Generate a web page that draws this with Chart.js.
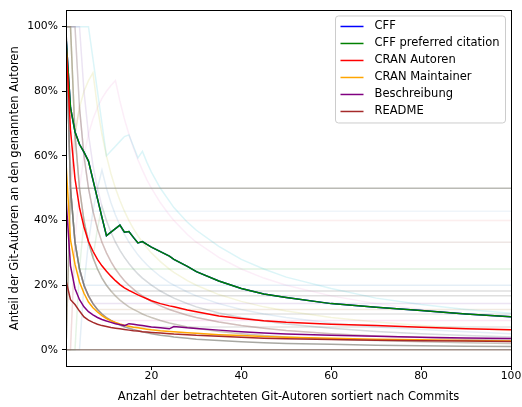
<!DOCTYPE html>
<html><head><meta charset="utf-8">
<script src="https://cdn.jsdelivr.net/npm/chart.js@4/dist/chart.umd.min.js"></script>
<style>html,body{margin:0;padding:0;background:#fff}#wrap{width:522px;height:407px}</style>
</head><body><div id="wrap"><canvas id="c" width="522" height="407"></canvas></div>
<script>
// x positions (number of considered git authors)
const xGrid = [1,2,3,4,5,6,7,8,9,10,11,12,13,14,15,16,17,18,19,20,22,24,25,28,30,35,40,45,50,60,70,80,90,100];
const xTicks = [20,40,60,80,100];
const yTicks = [0,0.2,0.4,0.6,0.8,1.0];

// main series (share of named authors)
const cff        = [0.97,0.75,0.675,0.636,0.612,0.584,0.526,0.468,0.41,0.353,0.364,0.375,0.386,0.364,0.366,0.348,0.331,0.335,0.326,0.318,0.304,0.29,0.28,0.258,0.242,0.213,0.19,0.173,0.162,0.143,0.132,0.122,0.111,0.102];
const cffPref    = [0.97,0.75,0.675,0.636,0.612,0.584,0.526,0.468,0.41,0.353,0.364,0.375,0.386,0.364,0.366,0.348,0.331,0.335,0.326,0.318,0.304,0.29,0.28,0.258,0.242,0.213,0.19,0.173,0.162,0.143,0.132,0.122,0.111,0.102];
const cranAut    = [0.95,0.68,0.53,0.44,0.38,0.335,0.305,0.28,0.26,0.243,0.228,0.214,0.202,0.192,0.184,0.177,0.17,0.164,0.158,0.152,0.143,0.136,0.133,0.123,0.118,0.105,0.097,0.09,0.085,0.079,0.075,0.07,0.065,0.062];
const cranMaint  = [0.58,0.34,0.265,0.21,0.175,0.148,0.13,0.117,0.106,0.097,0.09,0.085,0.08,0.076,0.073,0.07,0.068,0.066,0.064,0.062,0.059,0.057,0.056,0.053,0.051,0.047,0.044,0.041,0.039,0.036,0.033,0.031,0.029,0.027];
const beschr     = [0.47,0.26,0.19,0.155,0.133,0.118,0.108,0.1,0.094,0.089,0.085,0.081,0.078,0.075,0.081,0.079,0.077,0.075,0.073,0.071,0.068,0.065,0.072,0.068,0.066,0.061,0.056,0.052,0.049,0.045,0.042,0.039,0.037,0.035];
const readme     = [0.215,0.155,0.14,0.12,0.102,0.092,0.085,0.079,0.075,0.072,0.069,0.067,0.065,0.063,0.061,0.059,0.058,0.056,0.055,0.054,0.052,0.05,0.049,0.047,0.045,0.042,0.039,0.036,0.034,0.032,0.03,0.028,0.027,0.026];

const seriesNames  = ['CFF','CFF preferred citation','CRAN Autoren','CRAN Maintainer','Beschreibung','README'];
const seriesColors = ['#0000ff','#008000','#ff0000','#ffa500','#800080','#a52a2a'];
const seriesValues = [cff, cffPref, cranAut, cranMaint, beschr, readme];

// individual repositories (faint lines)
const repoZero  = [0,0,0,0,0,0,0,0,0,0,0,0,0,0,0,0,0,0,0,0,0,0,0,0,0,0,0,0,0,0,0,0,0,0];
const repoHalf  = [1,0.5,0.5,0.5,0.5,0.5,0.5,0.5,0.5,0.5,0.5,0.5,0.5,0.5,0.5,0.5,0.5,0.5,0.5,0.5,0.5,0.5,0.5,0.5,0.5,0.5,0.5,0.5,0.5,0.5,0.5,0.5,0.5,0.5];
const repoK1    = [1,0.5,0.333,0.25,0.2,0.167,0.143,0.125,0.111,0.1,0.091,0.083,0.077,0.071,0.067,0.063,0.059,0.056,0.053,0.05,0.045,0.042,0.04,0.036,0.033,0.029,0.025,0.022,0.02,0.017,0.014,0.013,0.011,0.01];
const repoK2    = [1,1,0.667,0.5,0.4,0.333,0.286,0.25,0.222,0.2,0.182,0.167,0.154,0.143,0.133,0.125,0.118,0.111,0.105,0.1,0.091,0.083,0.08,0.071,0.067,0.057,0.05,0.044,0.04,0.033,0.029,0.025,0.022,0.02];
const repoK3    = [1,1,1,0.75,0.6,0.5,0.429,0.375,0.333,0.3,0.273,0.25,0.231,0.214,0.2,0.188,0.176,0.167,0.158,0.15,0.136,0.125,0.12,0.107,0.1,0.086,0.075,0.067,0.06,0.05,0.043,0.038,0.033,0.03];
const repoK4    = [1,1,1,1,0.8,0.667,0.571,0.5,0.444,0.4,0.364,0.333,0.308,0.286,0.267,0.25,0.235,0.222,0.211,0.2,0.182,0.167,0.16,0.143,0.133,0.114,0.1,0.089,0.08,0.067,0.057,0.05,0.044,0.04];
const repoK6    = [1,1,0.667,0.75,0.8,0.833,0.857,0.75,0.667,0.6,0.545,0.5,0.462,0.429,0.4,0.375,0.353,0.333,0.316,0.3,0.273,0.25,0.24,0.214,0.2,0.171,0.15,0.133,0.12,0.1,0.086,0.075,0.067,0.06];
const repoTeal  = [1,1,1,1,1,1,0.9,0.8,0.7,0.6,0.615,0.63,0.645,0.66,0.665,0.63,0.594,0.614,0.58,0.55,0.5,0.46,0.44,0.395,0.37,0.32,0.28,0.25,0.225,0.19,0.16,0.14,0.125,0.113];
const repoRise1 = [0,0,0.333,0.5,0.6,0.667,0.714,0.75,0.778,0.8,0.818,0.833,0.769,0.714,0.667,0.625,0.588,0.556,0.526,0.5,0.455,0.417,0.4,0.357,0.333,0.286,0.25,0.222,0.2,0.167,0.143,0.125,0.111,0.1];
const repoRise2 = [0,0,0,0,0.2,0.333,0.429,0.5,0.556,0.5,0.455,0.417,0.385,0.357,0.333,0.313,0.294,0.278,0.263,0.25,0.227,0.208,0.2,0.179,0.167,0.143,0.125,0.111,0.1,0.083,0.071,0.063,0.056,0.05];
const repoRise3 = [0,0,0,0.25,0.4,0.333,0.286,0.375,0.444,0.4,0.364,0.333,0.308,0.286,0.267,0.25,0.235,0.222,0.211,0.2,0.182,0.167,0.16,0.143,0.133,0.114,0.1,0.089,0.08,0.067,0.057,0.05,0.044,0.04];
const repoRise4 = [0,0.5,0.667,0.75,0.6,0.5,0.429,0.375,0.333,0.3,0.273,0.25,0.231,0.214,0.2,0.188,0.176,0.167,0.158,0.15,0.136,0.125,0.12,0.107,0.1,0.086,0.075,0.067,0.06,0.05,0.043,0.038,0.033,0.03];
const repoH43   = [1,1,1,0.75,0.6,0.5,0.429,0.429,0.429,0.429,0.429,0.429,0.429,0.429,0.429,0.429,0.429,0.429,0.429,0.429,0.429,0.429,0.429,0.429,0.429,0.429,0.429,0.429,0.429,0.429,0.429,0.429,0.429,0.429];
const repoH40   = [0,0.5,0.667,0.5,0.4,0.4,0.4,0.4,0.4,0.4,0.4,0.4,0.4,0.4,0.4,0.4,0.4,0.4,0.4,0.4,0.4,0.4,0.4,0.4,0.4,0.4,0.4,0.4,0.4,0.4,0.4,0.4,0.4,0.4];
const repoH33   = [1,0.5,0.333,0.333,0.333,0.333,0.333,0.333,0.333,0.333,0.333,0.333,0.333,0.333,0.333,0.333,0.333,0.333,0.333,0.333,0.333,0.333,0.333,0.333,0.333,0.333,0.333,0.333,0.333,0.333,0.333,0.333,0.333,0.333];
const repoH25   = [0,0.5,0.333,0.25,0.25,0.25,0.25,0.25,0.25,0.25,0.25,0.25,0.25,0.25,0.25,0.25,0.25,0.25,0.25,0.25,0.25,0.25,0.25,0.25,0.25,0.25,0.25,0.25,0.25,0.25,0.25,0.25,0.25,0.25];
const repoH20   = [1,0.5,0.333,0.25,0.2,0.2,0.2,0.2,0.2,0.2,0.2,0.2,0.2,0.2,0.2,0.2,0.2,0.2,0.2,0.2,0.2,0.2,0.2,0.2,0.2,0.2,0.2,0.2,0.2,0.2,0.2,0.2,0.2,0.2];
const repoH18   = [1,1,0.667,0.5,0.4,0.333,0.286,0.25,0.222,0.2,0.182,0.182,0.182,0.182,0.182,0.182,0.182,0.182,0.182,0.182,0.182,0.182,0.182,0.182,0.182,0.182,0.182,0.182,0.182,0.182,0.182,0.182,0.182,0.182];
const repoH17   = [0,0.5,0.333,0.25,0.2,0.167,0.167,0.167,0.167,0.167,0.167,0.167,0.167,0.167,0.167,0.167,0.167,0.167,0.167,0.167,0.167,0.167,0.167,0.167,0.167,0.167,0.167,0.167,0.167,0.167,0.167,0.167,0.167,0.167];
const repoH14   = [1,0.5,0.333,0.25,0.2,0.167,0.143,0.143,0.143,0.143,0.143,0.143,0.143,0.143,0.143,0.143,0.143,0.143,0.143,0.143,0.143,0.143,0.143,0.143,0.143,0.143,0.143,0.143,0.143,0.143,0.143,0.143,0.143,0.143];
const repoH12   = [0,0,0.333,0.25,0.2,0.167,0.143,0.125,0.125,0.125,0.125,0.125,0.125,0.125,0.125,0.125,0.125,0.125,0.125,0.125,0.125,0.125,0.125,0.125,0.125,0.125,0.125,0.125,0.125,0.125,0.125,0.125,0.125,0.125];
const repoH11   = [1,0.5,0.333,0.25,0.2,0.167,0.143,0.125,0.111,0.111,0.111,0.111,0.111,0.111,0.111,0.111,0.111,0.111,0.111,0.111,0.111,0.111,0.111,0.111,0.111,0.111,0.111,0.111,0.111,0.111,0.111,0.111,0.111,0.111];
const repoH09   = [1,0.5,0.333,0.25,0.2,0.167,0.143,0.125,0.111,0.1,0.091,0.091,0.091,0.091,0.091,0.091,0.091,0.091,0.091,0.091,0.091,0.091,0.091,0.091,0.091,0.091,0.091,0.091,0.091,0.091,0.091,0.091,0.091,0.091];
const repoH07   = [0,0.5,0.333,0.25,0.2,0.167,0.143,0.125,0.111,0.1,0.091,0.083,0.077,0.071,0.071,0.071,0.071,0.071,0.071,0.071,0.071,0.071,0.071,0.071,0.071,0.071,0.071,0.071,0.071,0.071,0.071,0.071,0.071,0.071];

const repoValues = [repoZero, repoHalf, repoK1, repoK2, repoK3, repoK4, repoK6, repoTeal, repoRise1, repoRise2, repoRise3, repoRise4,
  repoH43, repoH40, repoH33, repoH25, repoH20, repoH18, repoH17, repoH14, repoH12, repoH11, repoH09, repoH07];
const repoColors = ['rgba(130,105,95,0.75)','rgba(140,140,130,0.6)','rgba(110,110,100,0.6)','rgba(150,140,120,0.5)','rgba(150,100,100,0.3)',
  'rgba(148,103,189,0.18)','rgba(188,189,34,0.15)','rgba(23,190,207,0.15)','rgba(227,119,194,0.12)','rgba(31,119,180,0.12)','rgba(44,160,44,0.12)','rgba(140,86,75,0.15)',
  'rgba(31,119,180,0.07)','rgba(214,39,40,0.08)','rgba(140,86,75,0.15)','rgba(44,160,44,0.15)','rgba(31,119,180,0.12)','rgba(127,127,127,0.25)','rgba(127,127,127,0.25)',
  'rgba(148,103,189,0.18)','rgba(188,150,100,0.2)','rgba(127,127,127,0.2)','rgba(227,119,194,0.18)','rgba(127,127,127,0.2)'];

const toPts = arr => xGrid.map((x, i) => ({x: x, y: arr[i]}));

const datasets = [];
seriesValues.forEach((v, i) => datasets.push({label: seriesNames[i], data: toPts(v), borderColor: seriesColors[i], borderWidth: 1.5, order: 6 - i}));
repoValues.forEach((v, i) => datasets.push({label: 'repo' + i, data: toPts(v), borderColor: repoColors[i], borderWidth: 1.5, order: 10}));

const FONT = 'DejaVu Sans';

const framePlugin = {
  id: 'frame',
  afterDraw(chart) {
    const {ctx, chartArea: a} = chart;
    ctx.save();
    ctx.strokeStyle = '#000'; ctx.lineWidth = 1;
    ctx.strokeRect(Math.round(a.left) + 0.5, Math.round(a.top) + 0.5, Math.round(a.right - a.left), Math.round(a.bottom - a.top));
    ctx.restore();
  }
};

const legendPlugin = {
  id: 'mplLegend',
  afterDraw(chart) {
    const {ctx, chartArea: a} = chart;
    const right = a.right - 5.5, top = a.top + 5.5;
    const w = 170, rowH = 17, h = 107;
    const left = right - w;
    ctx.save();
    ctx.beginPath();
    ctx.roundRect(left, top, w, h, 3);
    ctx.fillStyle = 'rgba(255,255,255,0.8)'; ctx.fill();
    ctx.strokeStyle = '#cccccc'; ctx.lineWidth = 1; ctx.stroke();
    ctx.font = '11.5px "' + FONT + '"';
    ctx.textBaseline = 'middle';
    ctx.fillStyle = '#000';
    seriesNames.forEach((name, i) => {
      const y = top + 10.5 + i * rowH;
      ctx.beginPath();
      ctx.moveTo(left + 5, y); ctx.lineTo(left + 28, y);
      ctx.strokeStyle = seriesColors[i]; ctx.lineWidth = 1.5; ctx.stroke();
      ctx.fillText(name, left + 39, y);
    });
    ctx.restore();
  }
};

new Chart(document.getElementById('c'), {
  type: 'line',
  data: {datasets},
  plugins: [framePlugin, legendPlugin],
  options: {
    responsive: false, animation: false,
    layout: {padding: {left: 0, top: 8, right: 11, bottom: 0}},
    elements: {point: {radius: 0}, line: {tension: 0, borderCapStyle: 'butt'}},
    plugins: {legend: {display: false}, tooltip: {enabled: false}},
    scales: {
      x: {
        type: 'linear', min: 1, max: 100,
        afterBuildTicks: s => { s.ticks = xTicks.map(v => ({value: v})); },
        afterFit: s => { s.height = 41; },
        grid: {drawOnChartArea: false, drawTicks: true, tickLength: 4, color: '#000', lineWidth: 1},
        border: {display: true, color: '#000', width: 1},
        ticks: {color: '#000', padding: 0, maxRotation: 0, font: {family: FONT, size: 10.8}, callback: v => String(v)},
        title: {display: true, text: 'Anzahl der betrachteten Git-Autoren sortiert nach Commits', color: '#000', font: {family: FONT, size: 11.5}, padding: {top: 0, bottom: 3}}
      },
      y: {
        type: 'linear', min: -0.05, max: 1.05,
        afterBuildTicks: s => { s.ticks = yTicks.map(v => ({value: v})); },
        afterFit: s => { s.width = 66; },
        grid: {drawOnChartArea: false, drawTicks: true, tickLength: 4, color: '#000', lineWidth: 1},
        border: {display: true, color: '#000', width: 1},
        ticks: {color: '#000', padding: 4, font: {family: FONT, size: 10.8}, callback: v => Math.round(v * 100) + '%'},
        title: {display: true, text: 'Anteil der Git-Autoren an den genannten Autoren', color: '#000', font: {family: FONT, size: 11.5}, padding: {top: 8, bottom: 0}}
      }
    }
  }
});
</script></body></html>
